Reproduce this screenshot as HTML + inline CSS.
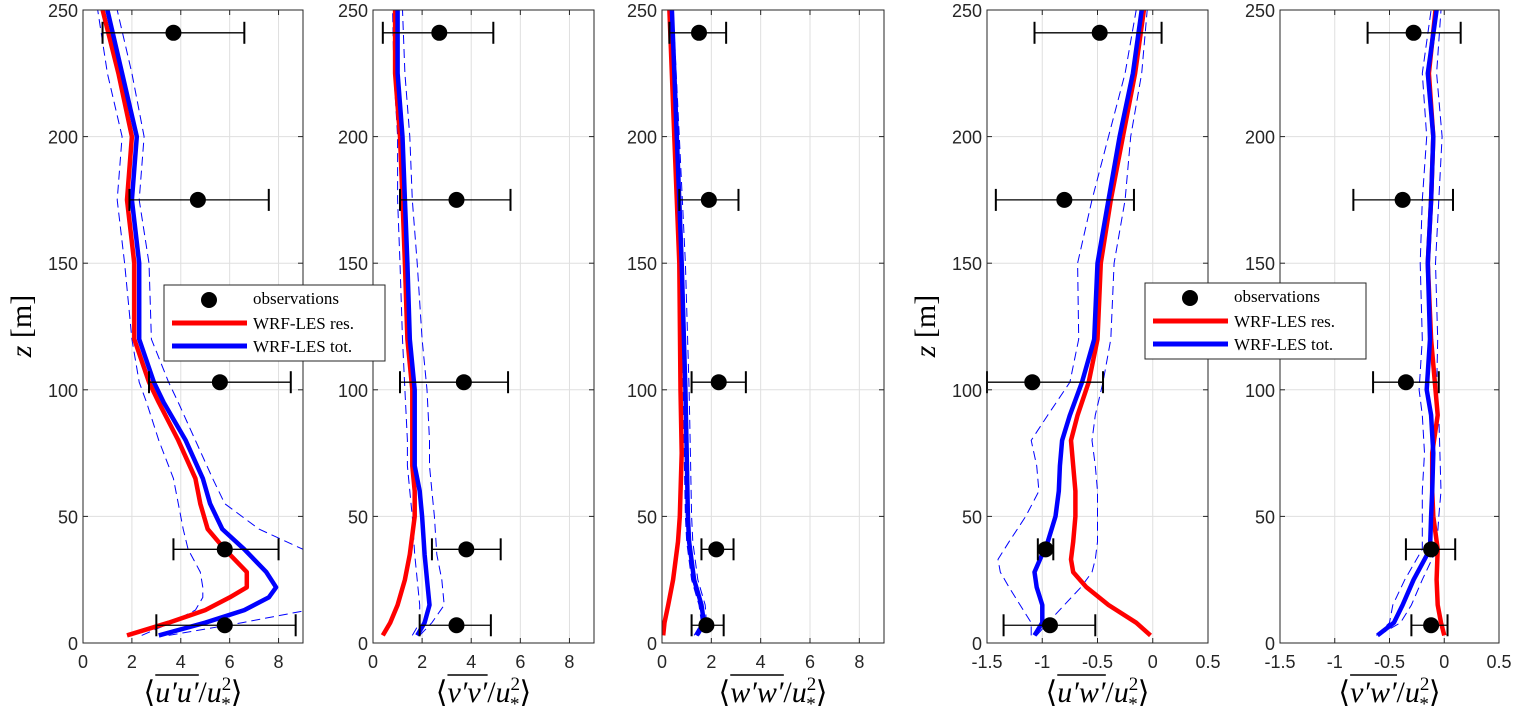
<!DOCTYPE html>
<html><head><meta charset="utf-8">
<style>
body{margin:0;background:#fff;}
svg{display:block;}
.tk{font-family:"Liberation Sans",sans-serif;font-size:18px;fill:#262626;}
.lab{font-family:"Liberation Serif",serif;font-size:30px;fill:#000;}
.leg{font-family:"Liberation Serif",serif;font-size:17px;fill:#000;}
</style></head>
<body>
<svg id="fig" width="1514" height="715" viewBox="0 0 1514 715" xmlns="http://www.w3.org/2000/svg"></svg>
<script>
// ---- data ----
const obsZ = [241, 175, 103, 37, 7];
// Panel 1: u'u'
const uuObs = [3.7, 4.7, 5.6, 5.8, 5.8];
const uuLo = [0.8, 1.9, 2.7, 3.7, 3.0];
const uuHi = [6.6, 7.6, 8.5, 8.0, 8.7];
const uuRedZ = [3, 8, 13, 18, 22, 28, 37, 45, 55, 65, 80, 95, 103, 120, 150, 175, 200, 225, 250];
const uuRed = [1.8, 3.5, 5.0, 6.0, 6.7, 6.7, 5.8, 5.1, 4.8, 4.6, 3.9, 3.1, 2.7, 2.1, 2.1, 1.8, 2.0, 1.45, 0.8];
const uuBlue = [3.1, 5.0, 6.6, 7.6, 7.9, 7.5, 6.6, 5.7, 5.2, 4.9, 4.2, 3.3, 2.9, 2.3, 2.3, 2.0, 2.2, 1.6, 1.0];
const uuDashLo = [2.4, 3.6, 4.6, 4.9, 4.9, 4.8, 4.3, 4.1, 3.9, 3.7, 3.1, 2.6, 2.3, 2.0, 1.7, 1.4, 1.6, 1.0, 0.6];
const uuDashHi = [3.5, 6.5, 9.2, 10.5, 11, 10.5, 9.0, 7.2, 5.8, 5.3, 4.6, 3.9, 3.5, 2.8, 2.7, 2.3, 2.5, 2.0, 1.4];
// Panel 2: v'v'
const vvObs = [2.7, 3.4, 3.7, 3.8, 3.4];
const vvLo = [0.4, 1.1, 1.1, 2.4, 1.9];
const vvHi = [4.9, 5.6, 5.5, 5.2, 4.8];
const vvZ = [3, 8, 15, 25, 35, 50, 60, 70, 80, 100, 120, 150, 175, 200, 225, 250];
const vvRed = [0.4, 0.7, 1.0, 1.3, 1.5, 1.7, 1.7, 1.6, 1.6, 1.6, 1.4, 1.3, 1.2, 1.1, 0.9, 0.9];
const vvBlue = [1.8, 2.1, 2.3, 2.2, 2.1, 2.0, 1.9, 1.7, 1.7, 1.7, 1.5, 1.4, 1.3, 1.2, 1.0, 1.0];
const vvDashLo = [1.6, 1.9, 1.9, 1.8, 1.7, 1.6, 1.5, 1.4, 1.4, 1.3, 1.2, 1.1, 1.0, 1.0, 0.85, 0.8];
const vvDashHi = [1.9, 2.4, 2.9, 2.8, 2.6, 2.5, 2.4, 2.3, 2.3, 2.2, 2.0, 1.8, 1.6, 1.5, 1.3, 1.2];
// Panel 3: w'w'
const wwObs = [1.5, 1.9, 2.3, 2.2, 1.8];
const wwLo = [0.3, 0.7, 1.2, 1.6, 1.2];
const wwHi = [2.6, 3.1, 3.4, 2.9, 2.5];
const wwZ = [3, 8, 15, 25, 40, 50, 75, 100, 150, 200, 250];
const wwRed = [0.05, 0.1, 0.25, 0.45, 0.65, 0.72, 0.8, 0.75, 0.7, 0.5, 0.3];
const wwBlue = [1.4, 1.7, 1.6, 1.3, 1.1, 1.05, 1.0, 0.95, 0.8, 0.6, 0.4];
const wwDashLo = [1.3, 1.6, 1.5, 1.2, 1.0, 0.95, 0.9, 0.85, 0.7, 0.5, 0.35];
const wwDashHi = [1.5, 1.8, 1.75, 1.45, 1.25, 1.2, 1.15, 1.1, 0.95, 0.7, 0.45];
// Panel 4: u'w'
const uwObs = [-0.48, -0.8, -1.09, -0.97, -0.93];
const uwLo = [-1.07, -1.42, -1.5, -1.04, -1.35];
const uwHi = [0.08, -0.17, -0.45, -0.9, -0.52];
const uwZ = [3, 8, 15, 22, 28, 33, 40, 50, 60, 70, 80, 90, 103, 120, 150, 175, 200, 225, 250];
const uwRed = [-0.02, -0.15, -0.4, -0.6, -0.72, -0.74, -0.72, -0.7, -0.7, -0.72, -0.74, -0.68, -0.58, -0.5, -0.47, -0.38, -0.27, -0.16, -0.08];
const uwBlue = [-1.07, -1.0, -1.0, -1.05, -1.07, -1.02, -0.95, -0.88, -0.85, -0.84, -0.82, -0.75, -0.64, -0.53, -0.5, -0.4, -0.3, -0.18, -0.1];
const uwDashLo = [-1.1, -1.1, -1.2, -1.3, -1.38, -1.4, -1.3, -1.15, -1.03, -1.05, -1.1, -0.95, -0.75, -0.67, -0.68, -0.55, -0.4, -0.25, -0.15];
const uwDashHi = [-1.05, -0.95, -0.8, -0.65, -0.55, -0.52, -0.5, -0.5, -0.5, -0.52, -0.55, -0.52, -0.45, -0.38, -0.35, -0.25, -0.2, -0.1, -0.05];
// Panel 5: v'w'
const vwObs = [-0.28, -0.38, -0.35, -0.12, -0.12];
const vwLo = [-0.7, -0.83, -0.65, -0.35, -0.3];
const vwHi = [0.15, 0.08, -0.05, 0.1, 0.03];
const vwZ = [3, 8, 15, 25, 37, 50, 60, 75, 90, 100, 120, 150, 175, 200, 225, 250];
const vwRed = [0.0, -0.03, -0.06, -0.07, -0.06, -0.1, -0.11, -0.11, -0.06, -0.08, -0.12, -0.15, -0.12, -0.1, -0.14, -0.08];
const vwBlue = [-0.61, -0.46, -0.38, -0.28, -0.13, -0.12, -0.11, -0.1, -0.12, -0.16, -0.13, -0.15, -0.12, -0.1, -0.15, -0.07];
const vwDashLo = [-0.62, -0.5, -0.47, -0.36, -0.2, -0.2, -0.2, -0.18, -0.2, -0.23, -0.2, -0.22, -0.2, -0.16, -0.2, -0.12];
const vwDashHi = [-0.6, -0.4, -0.3, -0.2, -0.07, -0.05, -0.03, -0.04, -0.05, -0.07, -0.06, -0.08, -0.05, -0.02, -0.07, -0.03];

const yTicks = [0, 50, 100, 150, 200, 250];
const xTicksA = [0, 2, 4, 6, 8];
const xTicksB = [-1.5, -1, -0.5, 0, 0.5];
const xTickLabelsB = ['-1.5', '-1', '-0.5', '0', '0.5'];

const NS = 'http://www.w3.org/2000/svg';
const svg = document.getElementById('fig');
function mk(tag, attrs, parent) {
  const e = document.createElementNS(NS, tag);
  for (const k in attrs) e.setAttribute(k, attrs[k]);
  (parent || svg).appendChild(e);
  return e;
}
const TOP = 10, BOT = 643;
function yScale(z) { return BOT - (z / 250) * (BOT - TOP); }

function panel(idx, L, R, xmin, xmax, xt, xtl, zArr, red, blue, dlo, dhi, oVal, oLo, oHi, label, yLabel) {
  const xs = v => L + (v - xmin) / (xmax - xmin) * (R - L);
  const g = mk('g', {});
  
  
  const cid = 'clip' + idx;
  const cp = mk('clipPath', {id: cid}, g);
  mk('rect', {x: L, y: TOP, width: R - L, height: BOT - TOP}, cp);
  xt.forEach(v => {
    const l = mk('line', {x1: xs(v), x2: xs(v), y1: TOP, y2: BOT, stroke: '#dfdfdf', 'stroke-width': 1}, g);
    
    
  });
  yTicks.forEach(v => {
    const l = mk('line', {x1: L, x2: R, y1: yScale(v), y2: yScale(v), stroke: '#dfdfdf', 'stroke-width': 1}, g);
    
    
  });
  const pts = arr => arr.map((v, i) => xs(v).toFixed(1) + ',' + yScale(zArr[i]).toFixed(1)).join(' ');
  const cg = mk('g', {'clip-path': 'url(#' + cid + ')'}, g);
  let p;
  p = mk('polyline', {points: pts(dlo), fill: 'none', stroke: '#0000ff', 'stroke-width': 1, 'stroke-dasharray': '9,5'}, cg);
  
  
  p = mk('polyline', {points: pts(dhi), fill: 'none', stroke: '#0000ff', 'stroke-width': 1, 'stroke-dasharray': '9,5'}, cg);
  
  
  p = mk('polyline', {points: pts(red), fill: 'none', stroke: '#ff0000', 'stroke-width': 4.5, 'stroke-linejoin': 'round'}, cg);
  
  
  p = mk('polyline', {points: pts(blue), fill: 'none', stroke: '#0000ff', 'stroke-width': 4.5, 'stroke-linejoin': 'round'}, cg);
  
  
  obsZ.forEach((z, i) => {
    const y = yScale(z);
    const og = mk('g', {}, g);
    
    
    mk('line', {x1: xs(oLo[i]), x2: xs(oHi[i]), y1: y, y2: y, stroke: '#000', 'stroke-width': 1.3}, og);
    mk('line', {x1: xs(oLo[i]), x2: xs(oLo[i]), y1: y - 11, y2: y + 11, stroke: '#000', 'stroke-width': 2}, og);
    mk('line', {x1: xs(oHi[i]), x2: xs(oHi[i]), y1: y - 11, y2: y + 11, stroke: '#000', 'stroke-width': 2}, og);
    mk('circle', {cx: xs(oVal[i]), cy: y, r: 8, fill: '#000'}, og);
  });
  xt.forEach((v, i) => {
    const x = xs(v);
    mk('line', {x1: x, x2: x, y1: BOT, y2: BOT - 5, stroke: '#262626'}, g);
    mk('line', {x1: x, x2: x, y1: TOP, y2: TOP + 5, stroke: '#262626'}, g);
    const t = mk('text', {x: x, y: BOT + 25, 'text-anchor': 'middle', class: 'tk'}, g);
    t.textContent = xtl[i];
    
    
  });
  yTicks.forEach(v => {
    const y = yScale(v);
    mk('line', {x1: L, x2: L + 5, y1: y, y2: y, stroke: '#262626'}, g);
    mk('line', {x1: R, x2: R - 5, y1: y, y2: y, stroke: '#262626'}, g);
    const t = mk('text', {x: L - 5, y: y + 7, 'text-anchor': 'end', class: 'tk'}, g);
    t.textContent = v;
    
    
  });
  const box = mk('rect', {x: L, y: TOP, width: R - L, height: BOT - TOP, fill: 'none', stroke: '#262626', 'stroke-width': 1}, g);
  
  
  const cx = (L + R) / 2;
  const xl = mk('text', {x: cx, y: 702, 'text-anchor': 'middle', class: 'lab'}, g);
  
  
  xl.innerHTML = '⟨<tspan class="ov" font-style="italic">' + label.a + '</tspan>/<tspan font-style="italic">u</tspan><tspan font-size="19" dy="-12">2</tspan><tspan font-size="19" dx="-10" dy="20">*</tspan><tspan dy="-8">⟩</tspan>';
  const ov = xl.querySelector('.ov');
  let bx = cx - 60, bw = 55;
  try { const bb = ov.getBBox(); if (bb.width > 0) { bx = bb.x; bw = bb.width; } } catch (e) {}
  mk('line', {x1: bx, x2: bx + bw, y1: 675, y2: 675, stroke: '#000', 'stroke-width': 1.6}, g);
  if (yLabel) {
    const yl = mk('text', {x: 0, y: 0, 'text-anchor': 'middle', class: 'lab', transform: 'translate(' + (L - 52) + ',326) rotate(-90)'}, g);
    
    
    yl.innerHTML = '<tspan font-style="italic">z</tspan> [m]';
  }
}

function legend(x, y) {
  const g = mk('g', {});
  
  
  mk('rect', {x: x, y: y, width: 221, height: 76, fill: '#fff', stroke: '#262626', 'stroke-width': 1}, g);
  const e1 = mk('g', {}, g);
  
  
  mk('circle', {cx: x + 45, cy: y + 15, r: 8, fill: '#000'}, e1);
  let t = mk('text', {x: x + 89, y: y + 19, class: 'leg'}, e1); t.textContent = 'observations';
  const e2 = mk('g', {}, g);
  
  
  mk('line', {x1: x + 8, x2: x + 83, y1: y + 38, y2: y + 38, stroke: '#ff0000', 'stroke-width': 5}, e2);
  t = mk('text', {x: x + 89, y: y + 44, class: 'leg'}, e2); t.textContent = 'WRF-LES res.';
  const e3 = mk('g', {}, g);
  
  
  mk('line', {x1: x + 8, x2: x + 83, y1: y + 61, y2: y + 61, stroke: '#0000ff', 'stroke-width': 5}, e3);
  t = mk('text', {x: x + 89, y: y + 67, class: 'leg'}, e3); t.textContent = 'WRF-LES tot.';
}

panel(1, 83, 303, 0, 9, xTicksA, xTicksA.map(String), uuRedZ, uuRed, uuBlue, uuDashLo, uuDashHi, uuObs, uuLo, uuHi, {name: 'uu', a: "u′u′"}, true);
panel(2, 373, 594, 0, 9, xTicksA, xTicksA.map(String), vvZ, vvRed, vvBlue, vvDashLo, vvDashHi, vvObs, vvLo, vvHi, {name: 'vv', a: "v′v′"}, false);
panel(3, 662, 884, 0, 9, xTicksA, xTicksA.map(String), wwZ, wwRed, wwBlue, wwDashLo, wwDashHi, wwObs, wwLo, wwHi, {name: 'ww', a: "w′w′"}, false);
panel(4, 987, 1208, -1.5, 0.5, xTicksB, xTickLabelsB, uwZ, uwRed, uwBlue, uwDashLo, uwDashHi, uwObs, uwLo, uwHi, {name: 'uw', a: "u′w′"}, true);
panel(5, 1280, 1499, -1.5, 0.5, xTicksB, xTickLabelsB, vwZ, vwRed, vwBlue, vwDashLo, vwDashHi, vwObs, vwLo, vwHi, {name: 'vw', a: "v′w′"}, false);
legend(164, 285);
legend(1145, 283);
</script>
</body></html>
